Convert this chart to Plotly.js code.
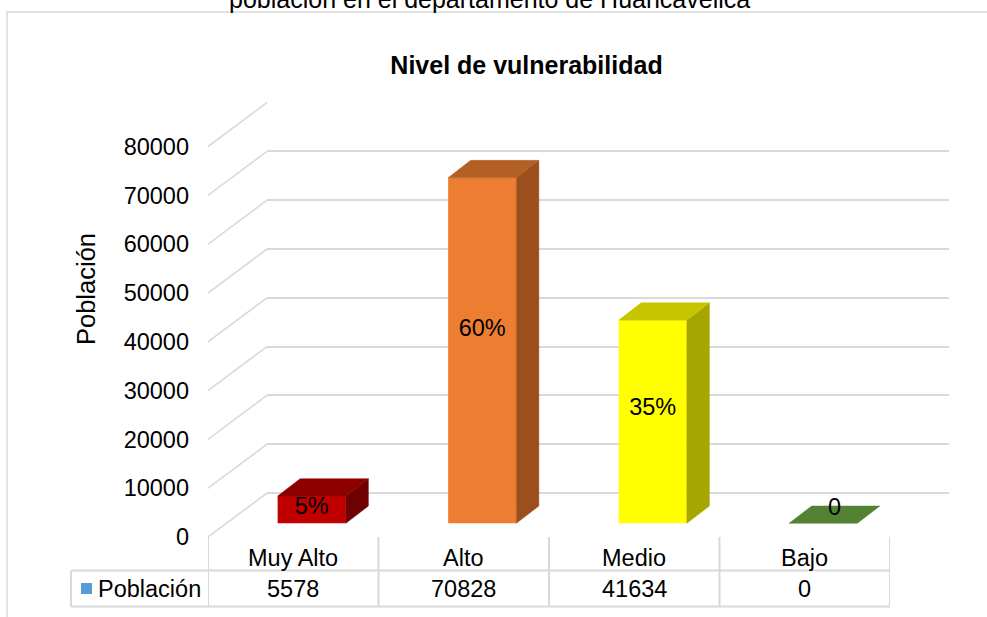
<!DOCTYPE html>
<html><head><meta charset="utf-8">
<script src="https://cdn.plot.ly/plotly-3.0.1.min.js"></script>
<style>html,body{margin:0;padding:0;background:#fff;overflow:hidden}#chart{width:987px;height:617px}</style>
</head><body><div id="chart"></div>
<script>
// ---------- data ----------
const categories = ['Muy Alto', 'Alto', 'Medio', 'Bajo'];
const poblacion = [5578, 70828, 41634, 0];
const shareLabels = ['5%', '60%', '35%', '0'];
const yTickVals = [0, 10000, 20000, 30000, 40000, 50000, 60000, 70000, 80000];
const seriesName = 'Población';
const chartTitle = 'Nivel de vulnerabilidad';
const captionText = 'población en el departamento de Huancavelica';

// ---------- styles ----------
const frontColors = ['#C00000', '#ED7D31', '#FFFF00', '#548235'];
const topColors   = ['#8E0000', '#B45F24', '#C6C600', '#548235'];
const sideColors  = ['#6F0000', '#9A4F1D', '#A6A600', '#3E6127'];
const GRID = '#D9D9D9';
const FONT = 'Liberation Sans, Arial, sans-serif';

// ---------- geometry helpers (pixel -> paper) ----------
const W = 987, H = 617;
const px = v => v / W;
const py = v => 1 - v / H;
const PXU = 4.88 / 1000;          // pixels per population unit
const n = categories.length;
const FLOOR_FRONT = 537, PLOT_TOP = 102;
const LEFT = 208, RIGHT = 890;
const DEPTH_PX_X = 59, DEPTH_PX_Y = 44;      // full floor depth
const BAR_SHIFT_X = 18.5, BAR_SHIFT_Y = 13.7; // bar front plane
const CAT_PX = (RIGHT - LEFT) / n;
const BAR_DX = 22.5 / CAT_PX;     // bar depth in category units
const BAR_DY = 17.3 / PXU;        // bar depth in value units
const DEPTH_X = DEPTH_PX_X / CAT_PX, DEPTH_Y = DEPTH_PX_Y / PXU;
const BAR_W = 0.4;
const yDomain = [py(FLOOR_FRONT), py(PLOT_TOP)];
const xRange = [-0.5, n - 0.5];
const idx = categories.map((c, i) => i);

const traces = [];
// back wall subplot placeholder
traces.push({type: 'scatter', x: [null], y: [null], xaxis: 'x', yaxis: 'y', hoverinfo: 'skip', showlegend: false});

// left side-wall diagonals
const dx = [], dy = [];
yTickVals.forEach(v => { dx.push(-0.5, -0.5 + DEPTH_X, null); dy.push(v, v + DEPTH_Y, null); });
traces.push({type: 'scatter', mode: 'lines', x: dx, y: dy, xaxis: 'x2', yaxis: 'y2',
  line: {color: GRID, width: 1.6}, hoverinfo: 'skip', showlegend: false});

// bar front faces
traces.push({type: 'bar', x: idx, y: poblacion, width: BAR_W, xaxis: 'x3', yaxis: 'y3',
  marker: {color: frontColors, line: {width: 0}}, hoverinfo: 'skip', showlegend: false});

// side and top faces
poblacion.forEach((v, i) => {
  const hw = BAR_W / 2;
  if (v > 0) {
    traces.push({type: 'scatter', mode: 'lines', fill: 'toself', fillcolor: sideColors[i],
      x: [i + hw, i + hw + BAR_DX, i + hw + BAR_DX, i + hw, i + hw],
      y: [0, BAR_DY, v + BAR_DY, v, 0],
      xaxis: 'x3', yaxis: 'y3', line: {color: sideColors[i], width: 0.5}, hoverinfo: 'skip', showlegend: false});
  }
  traces.push({type: 'scatter', mode: 'lines', fill: 'toself', fillcolor: topColors[i],
    x: [i - hw, i + hw, i + hw + BAR_DX, i - hw + BAR_DX, i - hw],
    y: [v, v, v + BAR_DY, v + BAR_DY, v],
    xaxis: 'x3', yaxis: 'y3', line: {color: topColors[i], width: 0.5}, hoverinfo: 'skip', showlegend: false});
});

// data labels
traces.push({type: 'scatter', mode: 'text', xaxis: 'x3', yaxis: 'y3',
  x: poblacion.map((v, i) => v > 0 ? i : i + BAR_DX / 2),
  y: poblacion.map(v => Math.max(v * 0.56, BAR_DY * 0.8)),
  text: shareLabels, textposition: 'middle center',
  textfont: {family: FONT, size: 23.5, color: '#000'}, cliponaxis: false,
  hoverinfo: 'skip', showlegend: false});

// ---------- annotations ----------
const annotations = [];
annotations.push({text: captionText, xref: 'paper', yref: 'paper', x: px(489), y: py(-1), xanchor: 'center', yanchor: 'middle',
  showarrow: false, font: {family: FONT, size: 25, color: '#000'}});
annotations.push({text: seriesName, textangle: -90, xref: 'paper', yref: 'paper', x: px(86), y: py(289),
  xanchor: 'center', yanchor: 'middle', showarrow: false, font: {family: FONT, size: 25.5, color: '#000'}});
categories.forEach((c, i) => {
  annotations.push({text: c, xref: 'x2', yref: 'paper', x: i, y: py(558), xanchor: 'center', yanchor: 'middle',
    showarrow: false, font: {family: FONT, size: 23.5, color: '#000'}});
  annotations.push({text: String(poblacion[i]), xref: 'x2', yref: 'paper', x: i, y: py(589), xanchor: 'center', yanchor: 'middle',
    showarrow: false, font: {family: FONT, size: 23.5, color: '#000'}});
});
annotations.push({text: seriesName, xref: 'paper', yref: 'paper', x: px(96), y: py(589), xanchor: 'left', yanchor: 'middle',
  showarrow: false, font: {family: FONT, size: 23.5, color: '#000'}});

// ---------- shapes (frame, data table, legend key) ----------
const shapes = [];
shapes.push({type: 'rect', xref: 'paper', yref: 'paper', x0: px(7), x1: px(1000), y0: py(12), y1: py(640),
  line: {color: GRID, width: 1.5}, fillcolor: 'rgba(0,0,0,0)'});
[570.5, 606.5].forEach(y => shapes.push({type: 'line', xref: 'paper', yref: 'paper', x0: px(71), x1: px(RIGHT), y0: py(y), y1: py(y),
  line: {color: GRID, width: 2}}));
shapes.push({type: 'line', xref: 'paper', yref: 'paper', x0: px(71), x1: px(71), y0: py(570.5), y1: py(606.5), line: {color: GRID, width: 2}});
for (let i = 0; i <= n; i++) {
  shapes.push({type: 'line', xref: 'x2', yref: 'paper', x0: i - 0.5, x1: i - 0.5, y0: py(FLOOR_FRONT), y1: py(606.5),
    line: {color: GRID, width: 2}});
}
shapes.push({type: 'rect', xref: 'paper', yref: 'paper', x0: px(81), x1: px(92), y0: py(583), y1: py(594),
  line: {width: 0}, fillcolor: '#5B9BD5'});

const hidden = {showgrid: false, zeroline: false, showline: false, showticklabels: false, ticks: '', fixedrange: true};

const layout = {
  width: W, height: H, margin: {l: 0, r: 0, t: 0, b: 0},
  paper_bgcolor: '#FFFFFF', plot_bgcolor: 'rgba(0,0,0,0)', showlegend: false,
  font: {family: FONT, color: '#000'},
  title: {text: chartTitle, font: {family: FONT, size: 25, color: '#000', weight: 'bold'},
    x: px(526.5), xanchor: 'center', xref: 'paper', y: py(65.5), yanchor: 'middle', yref: 'paper'},
  // back wall
  xaxis: Object.assign({}, hidden, {domain: [px(LEFT + DEPTH_PX_X), px(RIGHT + DEPTH_PX_X)], range: xRange, anchor: 'y'}),
  yaxis: {domain: yDomain, anchor: 'x', range: [-DEPTH_PX_Y / PXU, (FLOOR_FRONT - DEPTH_PX_Y - PLOT_TOP) / PXU],
    tickvals: yTickVals, showgrid: true, gridcolor: GRID, gridwidth: 2, zeroline: false, showline: false,
    showticklabels: false, ticks: '', fixedrange: true},
  // front plane: tick labels, table, side wall
  xaxis2: Object.assign({}, hidden, {domain: [px(LEFT), px(RIGHT)], range: xRange, anchor: 'y2'}),
  yaxis2: {domain: yDomain, anchor: 'x2', range: [0, (FLOOR_FRONT - PLOT_TOP) / PXU],
    tickvals: yTickVals, ticktext: yTickVals.map(String), showgrid: false, zeroline: false, showline: false,
    ticks: '', ticklabelstandoff: 18, tickfont: {family: FONT, size: 23.5, color: '#000'}, fixedrange: true},
  // bars plane
  xaxis3: Object.assign({}, hidden, {domain: [px(LEFT + BAR_SHIFT_X), px(RIGHT + BAR_SHIFT_X)], range: xRange, anchor: 'y3'}),
  yaxis3: Object.assign({}, hidden, {domain: yDomain, anchor: 'x3',
    range: [-BAR_SHIFT_Y / PXU, (FLOOR_FRONT - BAR_SHIFT_Y - PLOT_TOP) / PXU]}),
  annotations: annotations,
  shapes: shapes
};

Plotly.newPlot('chart', traces, layout, {displayModeBar: false, staticPlot: true});
</script>
</body></html>
